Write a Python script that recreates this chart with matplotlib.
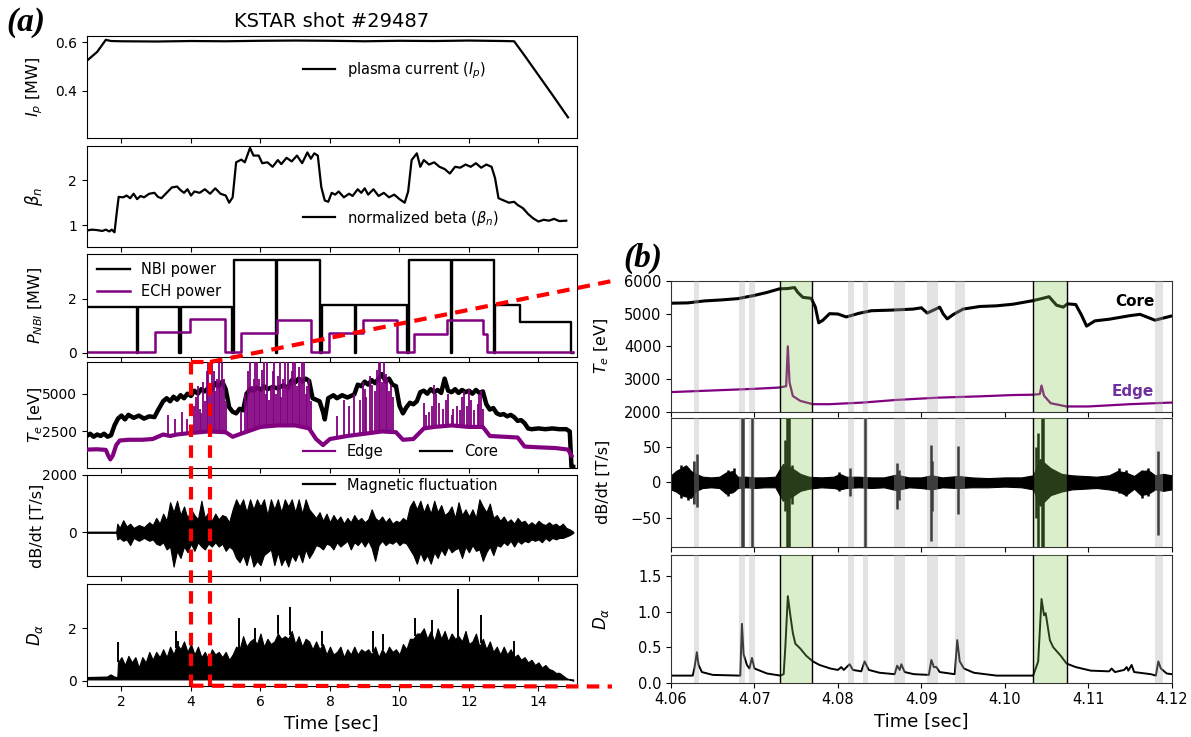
import numpy as np
import matplotlib
matplotlib.use('Agg')
import matplotlib.pyplot as plt
from matplotlib.lines import Line2D

W, H = 1191, 737
plt.rcParams['font.family'] = ['DejaVu Sans']
plt.rcParams['font.size'] = 10
plt.rcParams['mathtext.fontset'] = 'dejavusans'

# ---------------- shot overview (left) ----------------
ip_t = [1.0, 1.3, 1.55, 1.7, 2.0, 3.0, 4.0, 5.0, 6.0, 7.0, 8.0, 9.0, 10.0, 11.0, 12.0, 13.0, 13.3, 13.6, 14.0, 14.4, 14.85]
ip_v = [0.523, 0.56, 0.61, 0.605, 0.604, 0.603, 0.605, 0.604, 0.606, 0.607, 0.606, 0.604, 0.606, 0.605, 0.607, 0.605, 0.604, 0.545, 0.464, 0.383, 0.29]

bn_t = [1.0, 1.15, 1.3, 1.45, 1.55, 1.65, 1.72, 1.80, 1.86, 1.92, 2.05, 2.15, 2.25, 2.35, 2.45, 2.55, 2.65, 2.80, 2.95,
        3.05, 3.15, 3.30, 3.45, 3.60, 3.70, 3.80, 3.90, 4.00, 4.10, 4.25, 4.40, 4.55, 4.70, 4.85, 5.00, 5.10, 5.20,
        5.30, 5.45, 5.55, 5.70, 5.80, 5.95, 6.05, 6.20, 6.35, 6.50, 6.60, 6.75, 6.90, 7.05, 7.20, 7.35, 7.45, 7.55,
        7.65, 7.75, 7.85, 7.95, 8.05, 8.15, 8.25, 8.40, 8.55, 8.65, 8.80, 8.90, 9.00, 9.10, 9.25, 9.40, 9.55, 9.70,
        9.85, 10.00, 10.15, 10.25, 10.35, 10.50, 10.60, 10.70, 10.85, 11.00, 11.15, 11.30, 11.45, 11.60, 11.75,
        11.90, 12.05, 12.20, 12.35, 12.50, 12.65, 12.75, 12.85, 13.00, 13.15, 13.30, 13.40, 13.55, 13.70, 13.85,
        14.00, 14.15, 14.30, 14.45, 14.60, 14.80]
bn_v = [0.88, 0.90, 0.89, 0.87, 0.90, 0.86, 0.90, 0.84, 1.25, 1.63, 1.62, 1.66, 1.60, 1.70, 1.58, 1.65, 1.62, 1.70, 1.72,
        1.63, 1.60, 1.72, 1.84, 1.86, 1.78, 1.72, 1.80, 1.66, 1.75, 1.72, 1.80, 1.70, 1.82, 1.70, 1.66, 1.50, 1.62,
        2.40, 2.46, 2.40, 2.72, 2.55, 2.55, 2.38, 2.40, 2.30, 2.45, 2.36, 2.50, 2.42, 2.55, 2.38, 2.62, 2.48, 2.60,
        2.55, 1.85, 1.55, 1.52, 1.72, 1.68, 1.75, 1.62, 1.70, 1.65, 1.80, 1.72, 1.82, 1.68, 1.80, 1.65, 1.72, 1.62,
        1.68, 1.58, 1.50, 1.75, 2.45, 2.60, 2.30, 2.45, 2.35, 2.40, 2.30, 2.25, 2.15, 2.30, 2.28,
        2.35, 2.30, 2.38, 2.28, 2.35, 2.30, 2.05, 1.60, 1.55, 1.50, 1.52, 1.45, 1.38, 1.25, 1.15,
        1.08, 1.12, 1.10, 1.14, 1.09, 1.10]

# heating waveforms (step changes)
nbi_t = [1.0, 2.44, 2.48, 3.67, 3.71, 5.19, 5.24, 6.45, 6.49, 7.72, 7.76, 8.71, 8.75, 10.22, 10.26,
         11.48, 11.52, 12.72, 12.76, 13.47, 14.95, 15.0]
nbi_v = [1.7, 0.0, 1.7, 0.0, 1.7, 0.0, 3.45, 0.0, 3.45, 0.0, 1.75, 0.0, 1.75, 0.0, 3.45,
         0.0, 3.45, 0.0, 1.75, 1.12, 0.0, 0.0]
ech_t = [1.0, 2.96, 3.98, 4.99, 5.43, 6.47, 7.46, 7.98, 8.95, 9.93, 10.43, 11.36, 12.41, 12.52, 15.0]
ech_v = [0.02, 0.75, 1.25, 0.02, 0.72, 1.22, 0.02, 0.72, 1.2, 0.02, 0.7, 1.2, 0.68, 0.02, 0.02]

te_core_t = [1.0, 1.1, 1.2, 1.3, 1.4, 1.5, 1.6, 1.7, 1.8, 1.9, 2.0, 2.1, 2.2, 2.35, 2.5, 2.65, 2.8, 2.95, 3.05,
             3.2, 3.3, 3.4, 3.5, 3.6, 3.7, 3.8, 3.9, 4.0, 4.1, 4.2, 4.3, 4.4, 4.5, 4.6, 4.7, 4.8, 4.9, 5.0,
             5.1, 5.2, 5.3, 5.4, 5.5, 5.6, 5.7, 5.8, 5.9, 6.0, 6.1, 6.2, 6.35, 6.5, 6.65, 6.8, 6.9, 7.0, 7.1,
             7.2, 7.3, 7.4, 7.5, 7.6, 7.7, 7.8, 7.85, 7.95, 8.1, 8.2, 8.35, 8.5, 8.7, 8.8, 8.9, 9.0, 9.1, 9.2,
             9.3, 9.4, 9.5, 9.6, 9.7, 9.8, 9.9, 10.0, 10.1, 10.2, 10.3, 10.4, 10.5, 10.6, 10.7, 10.8, 10.9,
             11.0, 11.1, 11.2, 11.3, 11.4, 11.5, 11.6, 11.7, 11.8, 11.9, 12.0, 12.1, 12.2, 12.3, 12.4, 12.5,
             12.6, 12.7, 12.8, 12.9, 13.0, 13.1, 13.2, 13.3, 13.4, 13.5, 13.6, 13.7, 13.8, 14.0, 14.2, 14.4,
             14.6, 14.8, 14.9, 14.95, 15.0]
te_core_v = [2200, 2350, 2150, 2300, 2200, 2350, 2150, 2250, 2900, 3350, 3550, 3300, 3600, 3400, 3550, 3350, 3500, 3450, 3900,
             4500, 4700, 4500, 4800, 4600, 4900, 4700, 5000, 4850, 5200, 5000, 5300, 5150, 5400, 5250, 5700, 5500, 5800, 5300,
             4100, 3800, 3700, 4000, 3900, 5000, 5300, 5200, 5400, 5250, 5500, 5300, 5450, 5350, 5550, 5400, 5900, 5750, 6000,
             5800, 6000, 5850, 4700, 4600, 4500, 3800, 3300, 4700, 4900, 4700, 4900, 4750, 4950, 5600, 5500, 5800, 5600, 5900,
             5700, 6000, 6300, 5800, 6000, 5600, 5500, 4200, 3700, 4100, 4400, 4300, 4500, 5100, 5200, 5000, 5300,
             5100, 5250, 5050, 6000, 5200, 5100, 5300, 5050, 5250, 5100, 5200, 5000, 5250, 5050, 5150, 4300,
             3950, 4050, 3700, 3600, 3650, 3500, 3600, 3450, 3200, 3250, 3050, 2700, 2650, 2700, 2650, 2700,
             2650, 2650, 2500, 150, 150]

te_edge_t = [1.0, 1.3, 1.55, 1.62, 1.68, 1.75, 1.85, 1.95, 2.2, 2.6, 2.9, 3.0, 3.2, 3.4, 3.6, 4.0, 4.5, 5.0, 5.2,
             5.5, 6.0, 6.5, 7.0, 7.4, 7.6, 7.8, 8.0, 8.5, 9.0, 9.5, 9.9, 10.1, 10.4, 10.7, 11.0, 11.5, 12.0,
             12.4, 12.6, 13.0, 13.4, 13.6, 14.0, 14.5, 14.85, 14.95]
te_edge_v = [1300, 1320, 1280, 900, 650, 900, 1600, 1900, 1950, 1950, 2000, 2100, 2300, 2200, 2300, 2400, 2500, 2450, 2150,
             2400, 2800, 2900, 2900, 2700, 2000, 1600, 2000, 2200, 2350, 2500, 2450, 1950, 2000, 2700, 2800, 2900, 2800,
             2800, 2200, 2150, 2100, 1500, 1450, 1400, 1300, 900]
# spiky excursions of the edge channel
edge_spk_t = [3.35, 3.55, 3.75, 3.9, 4.1, 4.15, 4.2, 4.25, 4.3, 4.35, 4.4, 4.45, 4.5, 4.55, 4.6, 4.65, 4.7, 4.75,
              4.8, 4.85, 4.9, 4.95, 5.0, 5.45, 5.55, 5.6, 5.65, 5.7, 5.75, 5.8, 5.85, 5.9, 5.95, 6.0, 6.05, 6.1,
              6.15, 6.2, 6.25, 6.3, 6.35, 6.4, 6.45, 6.5, 6.55, 6.6, 6.65, 6.7, 6.75, 6.8, 6.85, 6.9, 6.95, 7.0,
              7.05, 7.1, 7.15, 7.2, 7.25, 7.3, 7.35, 7.4, 7.45, 8.2, 8.4, 8.55, 8.7, 8.85, 8.95, 9.0, 9.05, 9.15,
              9.2, 9.3, 9.35, 9.4, 9.45, 9.5, 9.55, 9.6, 9.65, 9.7, 9.75, 9.8, 10.7, 10.75, 10.85, 10.95, 11.0,
              11.05, 11.15, 11.25, 11.35, 11.4, 11.5, 11.55, 11.65, 11.75, 11.8, 11.85, 11.95, 12.0, 12.05, 12.15,
              12.25, 12.3, 12.35, 12.4]
edge_spk_v = [3600, 3300, 3800, 3300, 4200, 4800, 5500, 4000, 3700, 5800, 4500, 6500, 7100, 5000, 7100, 6500, 5200, 6000,
              7100, 5500, 7100, 6000, 4500, 3800, 5000, 4500, 6500, 7100, 5500, 6000, 7100, 7100, 6000, 5200, 6600, 7100,
              5000, 7100, 4600, 5500, 6500, 7100, 5000, 6200, 7100, 4800, 6000, 7100, 5500, 7100, 5800, 6500, 7100, 7100,
              5500, 6800, 6000, 7100, 7100, 5000, 5500, 6000, 4500, 3500, 4600, 4200, 5000, 4600, 5800, 5300, 4800, 6200,
              5600, 5200, 6600, 7100, 7100, 5800, 7100, 6300, 6000, 5200, 5600, 4800, 4400, 3600, 3800, 4200, 5600,
              5000, 4400, 4000, 4600, 5000, 3600, 4000, 4200, 3900, 4800, 5200, 4200, 5300, 4600, 3900,
              4300, 5000, 5200, 4000]

db_t = [1.0, 1.85, 1.88, 1.95, 2.05, 2.15, 2.25, 2.35, 2.5, 2.65, 2.8, 2.9, 3.0, 3.1, 3.2, 3.3, 3.4, 3.5, 3.6, 3.7,
        3.8, 3.9, 4.0, 4.1, 4.2, 4.3, 4.4, 4.5, 4.6, 4.7, 4.8, 4.9, 5.0, 5.1, 5.2, 5.3, 5.4, 5.5, 5.6, 5.7, 5.8,
        5.9, 6.0, 6.1, 6.2, 6.3, 6.4, 6.5, 6.6, 6.7, 6.8, 6.9, 7.0, 7.1, 7.2, 7.3, 7.4, 7.5, 7.6, 7.7, 7.8, 7.9,
        8.0, 8.1, 8.2, 8.3, 8.4, 8.5, 8.6, 8.7, 8.8, 8.9, 9.0, 9.1, 9.2, 9.3, 9.4, 9.5, 9.6, 9.7, 9.8, 9.9, 10.0,
        10.1, 10.2, 10.3, 10.4, 10.5, 10.6, 10.7, 10.8, 10.9, 11.0, 11.1, 11.2, 11.3, 11.4, 11.5, 11.6, 11.7, 11.8,
        11.9, 12.0, 12.1, 12.2, 12.3, 12.4, 12.5, 12.6, 12.7, 12.8, 12.9, 13.0, 13.1, 13.2, 13.3, 13.4, 13.5, 13.6,
        13.7, 13.8, 13.9, 14.0, 14.1, 14.2, 14.3, 14.4, 14.5, 14.6, 14.7, 14.8, 14.9, 15.0]
db_hi = [20, 20, 300, 150, 420, 200, 300, 150, 250, 180, 350, 250, 500, 300, 650, 400, 1050, 700, 1100, 600,
         900, 500, 800, 600, 450, 1100, 500, 700, 400, 650, 450, 600, 550, 350, 800, 1150, 900, 1150, 700, 1150, 800,
         1150, 900, 1150, 600, 1150, 800, 1150, 700, 1150, 900, 1150, 700, 1150, 650, 1150, 800, 650, 500, 700, 400, 650,
         350, 600, 400, 550, 300, 500, 350, 600, 400, 500, 350, 450, 800, 500, 400, 550, 350, 500, 300, 400, 350,
         500, 400, 900, 1100, 800, 1100, 700, 1000, 650, 1100, 700, 950, 600, 700, 900, 500, 1050, 600,
         800, 550, 800, 500, 1150, 900, 700, 1000, 500, 600, 400, 550, 350, 450, 300, 500, 350, 400,
         250, 350, 250, 400, 300, 250, 350, 250, 300, 200, 300, 150, 100, 20]
db_lo = [-20, -20, -250, -200, -300, -250, -450, -200, -300, -200, -300, -250, -400, -450, -350, -600, -500, -1200, -650, -900,
         -500, -700, -400, -650, -350, -500, -600, -400, -500, -350, -500, -400, -650, -500, -600, -900, -1050, -800, -1150, -700, -1200,
         -1000, -1150, -800, -700, -600, -1150, -700, -1150, -900, -1200, -800, -1000, -700, -1050, -600, -900, -700, -450, -500, -600, -400,
         -450, -600, -350, -500, -400, -300, -600, -350, -450, -300, -500, -300, -550, -1000, -450, -300, -450, -350, -400, -300, -450,
         -350, -400, -600, -800, -1100, -700, -1000, -800, -1100, -700, -900, -600, -800, -500, -700, -600, -550, -900,
         -500, -700, -450, -650, -600, -1000, -700, -500, -800, -450, -500, -350, -450, -300, -500, -300, -400, -300,
         -350, -250, -300, -250, -350, -200, -300, -200, -250, -200, -200, -150, -100, -20]

da_base = 0.05
da_t = [1.0, 1.6, 1.7, 1.8, 1.88, 1.9, 2.0, 2.1, 2.2, 2.3, 2.4, 2.5, 2.6, 2.7, 2.8, 2.9, 3.0, 3.1, 3.2, 3.3, 3.4,
        3.5, 3.6, 3.7, 3.8, 3.9, 4.0, 4.1, 4.2, 4.3, 4.4, 4.5, 4.6, 4.7, 4.8, 4.9, 5.0, 5.1, 5.2, 5.3, 5.4, 5.5,
        5.6, 5.7, 5.8, 5.9, 6.0, 6.1, 6.2, 6.3, 6.4, 6.5, 6.6, 6.7, 6.8, 6.9, 7.0, 7.1, 7.2, 7.3, 7.4, 7.5, 7.6,
        7.7, 7.8, 7.9, 8.0, 8.1, 8.2, 8.3, 8.4, 8.5, 8.6, 8.7, 8.8, 8.9, 9.0, 9.1, 9.2, 9.3, 9.4, 9.5, 9.6, 9.7,
        9.8, 9.9, 10.0, 10.1, 10.2, 10.3, 10.4, 10.5, 10.6, 10.7, 10.8, 10.9, 11.0, 11.1, 11.2, 11.3, 11.4, 11.5,
        11.6, 11.7, 11.8, 11.9, 12.0, 12.1, 12.2, 12.3, 12.4, 12.5, 12.6, 12.7, 12.8, 12.9, 13.0, 13.1, 13.2,
        13.3, 13.4, 13.5, 13.6, 13.7, 13.8, 13.9, 14.0, 14.1, 14.2, 14.3, 14.4, 14.5, 14.6, 14.7, 14.8, 14.9, 15.0]
da_top = [0.1, 0.12, 0.2, 0.12, 0.1, 0.7, 0.9, 0.6, 0.95, 0.7, 0.9, 0.5, 0.9, 0.7, 1.1, 0.8, 1.1, 0.9, 1.2, 0.9, 1.3,
          1.0, 1.4, 1.2, 1.5, 1.1, 1.4, 1.0, 1.3, 0.9, 1.1, 0.8, 1.2, 1.0, 1.1, 0.9, 1.1, 0.8, 1.0, 1.3, 1.2, 1.7,
          1.3, 1.5, 1.6, 1.4, 1.8, 1.3, 1.6, 1.4, 1.5, 1.8, 1.6, 1.7, 1.6, 1.9, 1.4, 1.7, 1.3, 1.6, 1.5, 1.2, 1.5,
          1.2, 1.4, 1.0, 1.3, 1.0, 1.1, 1.3, 0.9, 1.2, 1.0, 1.3, 1.0, 1.2, 1.1, 1.2, 1.0, 1.3, 0.9, 1.2, 1.0, 1.3,
          1.1, 1.2, 1.0, 1.4, 1.2, 1.6, 1.6, 1.8, 1.8, 2.0, 1.6, 1.9, 1.5, 2.0, 1.6, 1.9, 1.5, 1.8,
          1.6, 1.7, 1.5, 1.9, 1.4, 1.5, 1.8, 1.3, 1.6, 1.2, 1.5, 1.1, 1.3, 1.0, 1.3, 1.0, 1.2,
          0.9, 1.0, 0.8, 0.9, 0.7, 0.8, 0.6, 0.7, 0.5, 0.6, 0.45, 0.4, 0.3, 0.3, 0.2, 0.1, 0.05, 0.0]
da_spk_t = [1.9, 3.56, 3.62, 5.38, 5.85, 6.51, 6.85, 7.76, 9.23, 9.52, 10.45, 10.95, 11.67, 12.35, 13.3]
da_spk_v = [1.47, 1.9, 1.5, 2.4, 2.0, 2.5, 2.8, 1.9, 1.9, 1.8, 2.4, 2.3, 3.5, 2.5, 1.5]

# ---------------- zoomed window (right) ----------------
rte_core_t = [4.0600, 4.0620, 4.0640, 4.0660, 4.0680, 4.0700, 4.0715, 4.0730, 4.0740, 4.0748, 4.0752, 4.0758,
              4.0768, 4.0773, 4.0777, 4.0782, 4.0790, 4.0800, 4.0810, 4.0825, 4.0840, 4.0865, 4.0890, 4.0900,
              4.0907, 4.0913, 4.0922, 4.0926, 4.0931, 4.0938, 4.0950, 4.0970, 4.0990, 4.1010, 4.1034, 4.1044,
              4.1053, 4.1062, 4.1070, 4.1075, 4.1085, 4.1092, 4.1098, 4.1108, 4.1125, 4.1150, 4.1162, 4.1180,
              4.1189, 4.1200]
rte_core_v = [5320, 5330, 5390, 5420, 5460, 5560, 5650, 5760, 5770, 5800, 5650, 5500,
              5470, 5200, 4720, 4800, 5000, 4990, 4900, 5010, 5090, 5110, 5140, 5180,
              5020, 5090, 5200, 5000, 4840, 4970, 5140, 5220, 5240, 5290, 5400, 5460,
              5520, 5260, 5200, 5300, 5280, 4950, 4620, 4780, 4830, 4940, 4980, 4800,
              4860, 4930]
rte_edge_t = [4.0600, 4.0650, 4.0700, 4.0730, 4.0738, 4.0740, 4.0742, 4.0746, 4.0755, 4.0770, 4.0790, 4.0830,
              4.0870, 4.0920, 4.0970, 4.1010, 4.1034, 4.1042, 4.1044, 4.1047, 4.1055, 4.1074, 4.1100, 4.1150, 4.1200]
rte_edge_v = [2600, 2650, 2700, 2740, 2780, 4000, 2900, 2480, 2330, 2230, 2230, 2280,
              2360, 2430, 2470, 2510, 2520, 2540, 2800, 2490, 2260, 2160, 2160, 2230, 2280]

rdb_t = [4.0600, 4.0606, 4.0612, 4.0618, 4.0624, 4.0630, 4.0638, 4.0648, 4.0658, 4.0666, 4.0674, 4.0680,
         4.0690, 4.0700, 4.0712, 4.0725, 4.0734, 4.0745, 4.0755, 4.0765, 4.0780, 4.0795, 4.0802, 4.0810,
         4.0825, 4.0840, 4.0855, 4.0870, 4.0885, 4.0900, 4.0912, 4.0925, 4.0944, 4.0960, 4.0980, 4.1000,
         4.1020, 4.1034, 4.1042, 4.1055, 4.1068, 4.1080, 4.1095, 4.1110, 4.1125, 4.1135, 4.1145, 4.1155,
         4.1163, 4.1172, 4.1180, 4.1190, 4.1200]
rdb_hi = [10, 16, 20, 24, 16, 12, 8, 7, 8, 14, 16, 8, 8, 7, 7, 8, 26, 20, 12, 8, 7, 8, 12, 8,
          8, 7, 7, 11, 7, 7, 10, 7, 9, 7, 6, 7, 7, 10, 33, 20, 12, 10, 9, 8, 10, 16, 14, 9,
          16, 17, 10, 12, 10]
rdb_lo = [-10, -13, -18, -20, -22, -12, -8, -7, -8, -16, -14, -8, -7, -8, -7, -7, -26, -20, -12, -9, -7, -8, -10, -8,
          -7, -8, -7, -11, -7, -8, -10, -7, -8, -7, -7, -6, -7, -10, -33, -18, -13, -10, -9, -8, -10, -12, -18, -9,
          -18, -16, -10, -12, -10]
rdb_spk_t = [4.0612, 4.0620, 4.0628, 4.0631, 4.0668, 4.0675, 4.0685, 4.0686, 4.0697, 4.0737, 4.0739, 4.0741,
             4.0745, 4.0801, 4.0814, 4.0832, 4.0871, 4.0873, 4.0911, 4.0913, 4.0944, 4.1037, 4.1040, 4.1044,
             4.1046, 4.1137, 4.1145, 4.1165, 4.1172, 4.1184]
rdb_spk_hi = [24, 20, 30, 40, 18, 20, 91, 91, 91, 60, 91, 91, 25, 15, 20, 91, 27, 18, 53, 30, 52, 50, 70, 91,
              91, 20, 18, 18, 20, 45]
rdb_spk_lo = [-22, -25, -30, -35, -20, -12, -91, -91, -91, -40, -91, -91, -30, -12, -20, -91, -38, -25, -83, -40, -45, -50, -91, -91,
              -91, -15, -20, -22, -20, -75]

rda_t = [4.0600, 4.0626, 4.0628, 4.0631, 4.0633, 4.0637, 4.0650, 4.0683, 4.0685, 4.0687, 4.0691, 4.0694,
         4.0697, 4.0700, 4.0715, 4.0731, 4.0735, 4.0737, 4.0740, 4.0743, 4.0746, 4.0749, 4.0755, 4.0762,
         4.0770, 4.0778, 4.0791, 4.0800, 4.0804, 4.0807, 4.0814, 4.0818, 4.0828, 4.0832, 4.0837, 4.0850,
         4.0868, 4.0871, 4.0874, 4.0876, 4.0880, 4.0891, 4.0909, 4.0912, 4.0915, 4.0918, 4.0922, 4.0940,
         4.0943, 4.0946, 4.0951, 4.0963, 4.0990, 4.1034, 4.1040, 4.1044, 4.1047, 4.1049, 4.1054, 4.1058,
         4.1067, 4.1074, 4.1085, 4.1103, 4.1125, 4.1128, 4.1132, 4.1143, 4.1146, 4.1148, 4.1152, 4.1155,
         4.1175, 4.1181, 4.1184, 4.1187, 4.1194, 4.1200]
rda_v = [0.10, 0.10, 0.20, 0.43, 0.25, 0.15, 0.11, 0.10, 0.83, 0.40, 0.25, 0.20,
         0.35, 0.20, 0.13, 0.10, 0.12, 0.50, 1.22, 0.95, 0.70, 0.55, 0.48, 0.38,
         0.30, 0.25, 0.20, 0.18, 0.22, 0.18, 0.26, 0.18, 0.16, 0.30, 0.18, 0.14,
         0.12, 0.24, 0.18, 0.26, 0.15, 0.12, 0.11, 0.32, 0.22, 0.22, 0.15, 0.12,
         0.60, 0.30, 0.20, 0.14, 0.10, 0.10, 0.30, 1.18, 0.95, 0.98, 0.60, 0.50,
         0.38, 0.27, 0.22, 0.17, 0.16, 0.20, 0.15, 0.18, 0.22, 0.17, 0.25, 0.15,
         0.12, 0.10, 0.30, 0.20, 0.13, 0.12]

elm_windows = [(4.0731, 4.0769), (4.1034, 4.1074)]
grey_windows = [(4.0628, 4.0634), (4.0682, 4.0689), (4.0694, 4.0701), (4.0812, 4.0819), (4.0830, 4.0836),
                (4.0867, 4.0881), (4.0907, 4.0920), (4.0940, 4.0952), (4.1180, 4.1189)]


def rect(l, t, r, b):
    return [l / W, 1 - b / H, (r - l) / W, (b - t) / H]


fig = plt.figure(figsize=(W / 100, H / 100), dpi=100)

L, R = 86.7, 576.7
ax_ip = fig.add_axes(rect(L, 35.7, R, 137.7))
ax_bn = fig.add_axes(rect(L, 145.7, R, 246.7))
ax_pw = fig.add_axes(rect(L, 254, R, 356.7))
ax_te = fig.add_axes(rect(L, 362, R, 467.7))
ax_db = fig.add_axes(rect(L, 475, R, 576))
ax_da = fig.add_axes(rect(L, 584, R, 685.7))
left_axes = [ax_ip, ax_bn, ax_pw, ax_te, ax_db, ax_da]

leg_kw = dict(frameon=False, fontsize=10.5, handlelength=2.2, borderaxespad=0)

ax_ip.plot(ip_t, ip_v, color='k', lw=1.6, label='plasma current ($I_p$)')
ax_ip.set_ylim(0.206, 0.627)
ax_ip.set_yticks([0.4, 0.6])
ax_ip.set_ylabel('$I_p$ [MW]', fontsize=11.5)
ax_ip.legend(loc='center left', bbox_to_anchor=(0.43, 0.654), **leg_kw)
ax_ip.set_title('KSTAR shot #29487', fontsize=14, pad=6)

ax_bn.plot(bn_t, bn_v, color='k', lw=1.6, label=r'normalized beta ($\beta_n$)')
ax_bn.set_ylim(0.52, 2.77)
ax_bn.set_yticks([1, 2])
ax_bn.set_ylabel(r'$\beta_n$', fontsize=12)
ax_bn.legend(loc='center left', bbox_to_anchor=(0.43, 0.284), **leg_kw)

ax_pw.step(nbi_t, nbi_v, where='post', color='k', lw=1.7, label='NBI power')
ax_pw.step(ech_t, ech_v, where='post', color='purple', lw=1.8, label='ECH power')
ax_pw.set_ylim(-0.15, 3.66)
ax_pw.set_yticks([0, 2])
ax_pw.set_ylabel('$P_{NBI}$ [MW]', fontsize=11.5)
ax_pw.legend(loc='upper left', bbox_to_anchor=(0.01, 0.98), **leg_kw)

# core first, edge (with its spikes) drawn over it
ax_te.plot(te_core_t, te_core_v, color='k', lw=3.2, zorder=2)
edge_base = np.interp(edge_spk_t, te_edge_t, te_edge_v)
ax_te.vlines(edge_spk_t, edge_base, edge_spk_v, color='purple', lw=1.3, zorder=3)
ax_te.plot(te_edge_t, te_edge_v, color='purple', lw=3, zorder=3)
te_handles = [Line2D([], [], color='purple', lw=1.6, label='Edge'),
              Line2D([], [], color='k', lw=1.6, label='Core')]
ax_te.set_ylim(100, 7100)
ax_te.set_yticks([2500, 5000])
ax_te.set_ylabel('$T_e$ [eV]', fontsize=11.5)
ax_te.legend(handles=te_handles, ncol=2, loc='center left', bbox_to_anchor=(0.43, 0.15),
             columnspacing=2.5, handletextpad=0.8, **leg_kw)

ax_db.fill_between(db_t, db_lo, db_hi, color='k', lw=0.8)
ax_db.plot([], [], color='k', lw=1.6, label='Magnetic fluctuation')
ax_db.set_ylim(-1530, 2000)
ax_db.set_yticks([0, 2000])
ax_db.set_ylabel('dB/dt [T/s]', fontsize=11.5)
ax_db.legend(loc='center left', bbox_to_anchor=(0.43, 0.9), **leg_kw)

ax_da.fill_between(da_t, da_base, da_top, color='k', lw=0.8)
ax_da.plot(da_t[:5], da_top[:5], color='k', lw=1.6)
da_spk_base = np.interp(da_spk_t, da_t, da_top)
ax_da.vlines(da_spk_t, da_spk_base, da_spk_v, color='k', lw=1.4)
ax_da.set_ylim(-0.19, 3.69)
ax_da.set_yticks([0, 2])
ax_da.set_ylabel(r'$D_\alpha$', fontsize=12)
ax_da.set_xlabel('Time [sec]', fontsize=13)

for ax in left_axes:
    ax.set_xlim(1.0, 15.1)
    ax.set_xticks([2, 4, 6, 8, 10, 12, 14])
    ax.tick_params(labelsize=10)
    ax.yaxis.set_label_coords(-0.085, 0.5)
    if ax is not ax_da:
        ax.tick_params(labelbottom=False)

# right column
RL, RR = 671, 1171.7
bx_te = fig.add_axes(rect(RL, 281, RR, 411.7))
bx_db = fig.add_axes(rect(RL, 418, RR, 546.7))
bx_da = fig.add_axes(rect(RL, 555, RR, 682.7))
right_axes = [bx_te, bx_db, bx_da]

bx_te.plot(rte_core_t, rte_core_v, color='k', lw=2.2)
bx_te.plot(rte_edge_t, rte_edge_v, color='purple', lw=1.6)
bx_te.text(4.1132, 5360, 'Core', fontsize=11, fontweight='bold', ha='left', va='center')
bx_te.text(4.1128, 2620, 'Edge', fontsize=11, fontweight='bold', color='#7030a0', ha='left', va='center')
bx_te.set_ylim(2000, 6000)
bx_te.set_yticks([2000, 3000, 4000, 5000, 6000])
bx_te.set_ylabel('$T_e$ [eV]', fontsize=11.5)

bx_db.fill_between(rdb_t, rdb_lo, rdb_hi, color='k', lw=0.8)
bx_db.vlines(rdb_spk_t, rdb_spk_lo, rdb_spk_hi, color='k', lw=1.8)
bx_db.set_ylim(-91, 91)
bx_db.set_yticks([-50, 0, 50])
bx_db.set_ylabel('dB/dt [T/s]', fontsize=11.5)

bx_da.plot(rda_t, rda_v, color='k', lw=1.4)
bx_da.set_ylim(0, 1.8)
bx_da.set_yticks([0.0, 0.5, 1.0, 1.5])
bx_da.set_ylabel(r'$D_\alpha$', fontsize=12)
bx_da.set_xlabel('Time [sec]', fontsize=13)

for ax in right_axes:
    ax.set_xlim(4.06, 4.12)
    ax.set_xticks([4.06, 4.07, 4.08, 4.09, 4.10, 4.11, 4.12])
    ax.xaxis.set_major_formatter(plt.FormatStrFormatter('%.2f'))
    ax.tick_params(labelsize=10.5)
    ax.yaxis.set_label_coords(-0.12, 0.5)
    for s in ax.spines.values():
        s.set_color('#333333')
    for a, b in grey_windows:
        ax.axvspan(a, b, color='#b0b0b0', alpha=0.35, lw=0, zorder=3)
    for a, b in elm_windows:
        ax.axvspan(a, b, color='#85c853', alpha=0.3, lw=0, zorder=3)
        ax.axvline(a, color='k', lw=1, zorder=4)
        ax.axvline(b, color='k', lw=1, zorder=4)
    if ax is not bx_da:
        ax.tick_params(labelbottom=False)

# red dashed marker linking the overview to the zoomed window
to_fig = fig.transFigure.inverted()


def fpt(ax, x, y):
    return to_fig.transform(ax.transData.transform((x, y)))


te_top = ax_te.get_ylim()[1]
da_bot = ax_da.get_ylim()[0]
p_a = fpt(ax_te, 4.0, te_top)
p_b = fpt(ax_te, 4.55, te_top)
p_c = fpt(ax_da, 4.0, da_bot)
p_d = fpt(ax_da, 4.55, da_bot)
end_top = (612 / W, 1 - 281 / H)
end_bot = (612 / W, 1 - 686.5 / H)
red_kw = dict(transform=fig.transFigure, color='red', lw=3, ls=(0, (3, 2)), zorder=20)
for p, q in [(p_a, p_c), (p_b, p_d), (p_a, p_b), (p_b, end_top), (p_c, end_bot)]:
    fig.add_artist(Line2D([p[0], q[0]], [p[1], q[1]], **red_kw))

fig.text(6 / W, 1 - 22 / H, '(a)', fontsize=24, fontweight='bold', style='italic',
         family='Liberation Serif', va='center', ha='left')
fig.text(623 / W, 1 - 258 / H, '(b)', fontsize=24, fontweight='bold', style='italic',
         family='Liberation Serif', va='center', ha='left')

fig.savefig('out.png', dpi=100)
